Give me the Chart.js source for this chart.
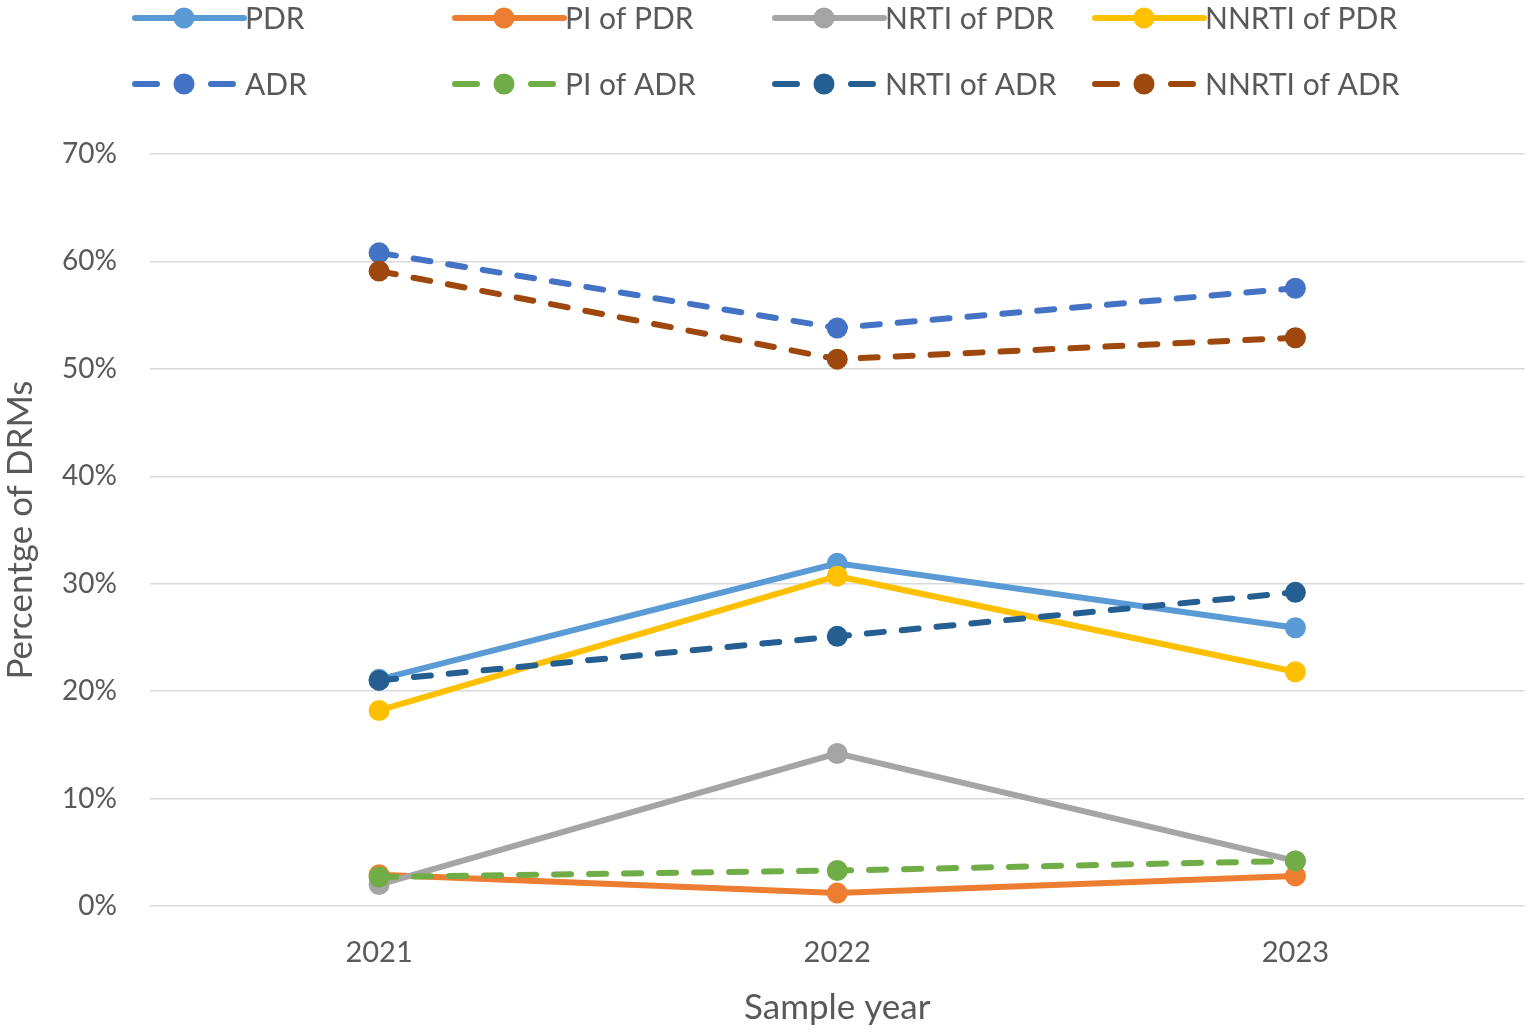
<!DOCTYPE html>
<html lang="en">
  <head>
    <meta charset="UTF-8" />
    <title>DRMs by sample year</title>
    <style>
      html, body { margin: 0; padding: 0; background: #fff; }
      #wrap { width: 1535px; height: 1033px; }
    </style>
  </head>
  <body>
    <div id="wrap"><canvas id="chart"></canvas></div>

    <script src="https://cdn.jsdelivr.net/npm/chart.js"></script>
    <script>
      // values (percent)
      const years = ['2021', '2022', '2023'];
      const pdr = [21.1, 31.9, 25.9];
      const piOfPdr = [2.9, 1.2, 2.8];
      const nrtiOfPdr = [2.0, 14.2, 4.2];
      const nnrtiOfPdr = [18.2, 30.7, 21.8];
      const adr = [60.8, 53.8, 57.5];
      const piOfAdr = [2.7, 3.3, 4.2];
      const nrtiOfAdr = [21.0, 25.1, 29.2];
      const nnrtiOfAdr = [59.1, 50.9, 52.9];

      const seriesNames = ['PDR', 'PI of PDR', 'NRTI of PDR', 'NNRTI of PDR',
        'ADR', 'PI of ADR', 'NRTI of ADR', 'NNRTI of ADR'];
      const seriesValues = [pdr, piOfPdr, nrtiOfPdr, nnrtiOfPdr,
        adr, piOfAdr, nrtiOfAdr, nnrtiOfAdr];
      const colors = ['#5B9BD5', '#ED7D31', '#A5A5A5', '#FFC000',
        '#4472C4', '#70AD47', '#255E91', '#9E480E'];

      const FONT = 'Lato, "Open Sans", sans-serif';
      const TEXT = '#595959';
      const DASH = [17, 18];

      const datasets = seriesNames.map((name, i) => {
        const dashed = i >= 4;
        return {
          label: name,
          data: seriesValues[i],
          borderColor: colors[i],
          backgroundColor: colors[i],
          borderWidth: 6,
          borderDash: dashed ? DASH : [],
          borderCapStyle: 'round',
          pointRadius: 10.5,
          pointHoverRadius: 10.5,
          pointBorderWidth: 0,
          tension: 0,
          order: 7 - i, // later series sit on top, like the original
        };
      });

      // 4 x 2 legend grid drawn on the canvas
      const gridLegend = {
        id: 'gridLegend',
        afterDraw(chart) {
          const ctx = chart.ctx;
          ctx.save();
          ctx.font = '30px ' + FONT;
          ctx.textBaseline = 'middle';
          chart.data.datasets.forEach((ds, i) => {
            const col = i % 4;
            const row = Math.floor(i / 4);
            const x0 = 132 + col * 320;
            const y = 18 + row * 66;
            const cx = x0 + 52;
            ctx.strokeStyle = ds.borderColor;
            ctx.lineWidth = 6;
            ctx.lineCap = 'round';
            ctx.beginPath();
            if (ds.borderDash.length) {
              ctx.moveTo(x0 + 3, y); ctx.lineTo(x0 + 25, y);
              ctx.moveTo(x0 + 79, y); ctx.lineTo(x0 + 101, y);
            } else {
              ctx.moveTo(x0 + 3, y); ctx.lineTo(x0 + 112, y);
            }
            ctx.stroke();
            ctx.fillStyle = ds.backgroundColor;
            ctx.beginPath();
            ctx.arc(cx, y, 10.5, 0, Math.PI * 2);
            ctx.fill();
            ctx.fillStyle = TEXT;
            ctx.fillText(ds.label, x0 + 113, y + 1);
          });
          ctx.restore();
        },
      };

      new Chart(document.getElementById('chart'), {
        type: 'line',
        data: { labels: years, datasets },
        plugins: [gridLegend],
        options: {
          responsive: true,
          maintainAspectRatio: false,
          animation: false,
          layout: { padding: { top: 154, right: 3, left: 0, bottom: 0 } },
          plugins: {
            legend: { display: false },
            tooltip: { enabled: false },
          },
          scales: {
            x: {
              offset: true,
              grid: { display: false, drawTicks: false },
              border: { display: false },
              ticks: { color: TEXT, font: { family: FONT, size: 29 }, padding: 29 },
              title: {
                display: true,
                text: 'Sample year',
                color: TEXT,
                font: { family: FONT, size: 35 },
                padding: { top: 0, bottom: 4 },
              },
              afterFit: (s) => { s.height = 127; },
            },
            y: {
              min: 0,
              max: 70,
              grid: { color: '#D9D9D9', lineWidth: 1.5, drawTicks: false },
              border: { display: false },
              ticks: {
                stepSize: 10,
                color: TEXT,
                font: { family: FONT, size: 28 },
                padding: 33,
                callback: (v) => v + '%',
              },
              title: {
                display: true,
                text: 'Percentge of DRMs',
                color: TEXT,
                font: { family: FONT, size: 35 },
                padding: { top: 0, bottom: 0 },
              },
              afterFit: (s) => { s.width = 150; },
            },
          },
        },
      });
    </script>
  </body>
</html>
